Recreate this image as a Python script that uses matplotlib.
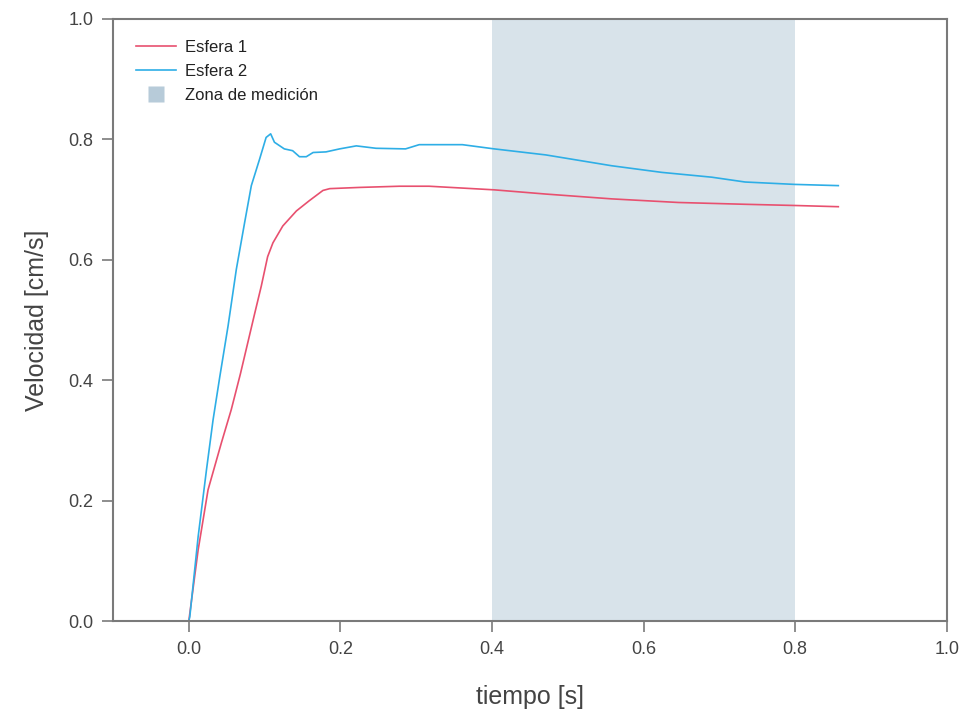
import matplotlib
matplotlib.use('Agg')
import matplotlib.pyplot as plt

plt.rcParams['font.family'] = ['Liberation Sans', 'DejaVu Sans']

# Esfera 2 (blue)
t2 = [0.0, 0.0013, 0.0123, 0.0233, 0.032, 0.0408, 0.0518, 0.0627, 0.0737,
      0.0825, 0.0934, 0.102, 0.108, 0.113, 0.126, 0.137, 0.146, 0.155,
      0.164, 0.181, 0.199, 0.221, 0.247, 0.286, 0.304, 0.361, 0.403, 0.471,
      0.558, 0.624, 0.690, 0.734, 0.800, 0.857]
v2 = [0.0, 0.007, 0.140, 0.251, 0.334, 0.405, 0.490, 0.584, 0.662,
      0.723, 0.767, 0.803, 0.809, 0.795, 0.784, 0.781, 0.771, 0.771,
      0.778, 0.779, 0.784, 0.789, 0.785, 0.784, 0.791, 0.791, 0.784, 0.774,
      0.756, 0.745, 0.737, 0.729, 0.725, 0.723]

# Esfera 1 (red)
t1 = [0.0, 0.0123, 0.0254, 0.043, 0.056, 0.068, 0.0868, 0.0956, 0.104,
      0.111, 0.124, 0.142, 0.159, 0.177, 0.186, 0.225, 0.278, 0.317, 0.403,
      0.471, 0.558, 0.646, 0.734, 0.800, 0.857]
v1 = [0.0, 0.118, 0.218, 0.296, 0.351, 0.410, 0.510, 0.556, 0.605,
      0.628, 0.656, 0.681, 0.698, 0.715, 0.718, 0.720, 0.722, 0.722, 0.716,
      0.709, 0.701, 0.695, 0.692, 0.690, 0.688]

zona = (0.4, 0.8)
xticks = [0.0, 0.2, 0.4, 0.6, 0.8, 1.0]
yticks = [0.0, 0.2, 0.4, 0.6, 0.8, 1.0]

fig = plt.figure(figsize=(9.66, 7.23), dpi=100)
ax = fig.add_axes([0.117, 0.141, 0.863, 0.833])

ax.axvspan(zona[0], zona[1], color="#d8e3ea", lw=0, zorder=0)
ax.plot(t1, v1, color="#e8506f", lw=1.2, label="Esfera 1")
ax.plot(t2, v2, color="#2eaee6", lw=1.2, label="Esfera 2")

ax.set_xlim(-0.1, 1.0)
ax.set_ylim(0.0, 1.0)
ax.set_xticks(xticks)
ax.set_yticks(yticks)
ax.set_xticklabels([f"{x:.1f}" for x in xticks])
ax.set_yticklabels([f"{y:.1f}" for y in yticks])

for s in ax.spines.values():
    s.set_color("#7a7a7a")
    s.set_linewidth(1.5)
ax.tick_params(direction="out", length=8, width=1.2, color="#7a7a7a",
               labelsize=13, labelcolor="#444444", pad=6)

ax.set_xlabel("tiempo [s]", fontsize=18, color="#444444", labelpad=20)
ax.set_ylabel("Velocidad [cm/s]", fontsize=18, color="#444444", labelpad=14)

# legend: two lines and a small square for the shaded zone
handles = [
    plt.Line2D([], [], color="#e8506f", lw=1.2),
    plt.Line2D([], [], color="#2eaee6", lw=1.2),
    plt.Line2D([], [], color="none", marker="s", markersize=12,
               markerfacecolor="#b7cbd9", markeredgecolor="none"),
]
leg = ax.legend(handles, ["Esfera 1", "Esfera 2", "Zona de medición"],
                loc="upper left", frameon=False, fontsize=12,
                handlelength=2.4, labelspacing=0.55, handletextpad=0.5,
                bbox_to_anchor=(0.01, 0.99))
for txt in leg.get_texts():
    txt.set_color("#222222")

plt.savefig("out.png", dpi=100)
plt.close()
